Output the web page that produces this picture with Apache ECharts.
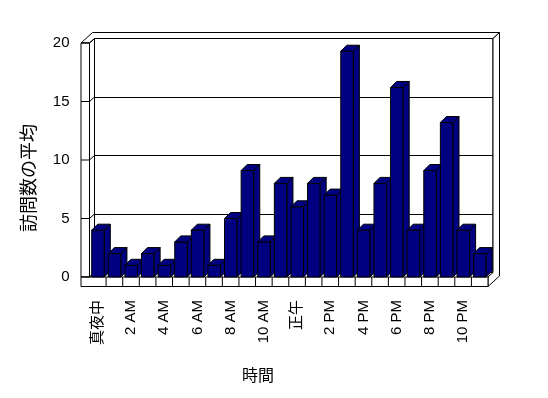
<!DOCTYPE html>
<html>
<head>
<meta charset="utf-8">
<script src="https://cdn.jsdelivr.net/npm/echarts@6/dist/echarts.min.js"></script>
<style>
  html, body { margin: 0; padding: 0; background: #fff; }
  #main { width: 548px; height: 398px; }
</style>
</head>
<body>
<div id="main"></div>
<script>
// 時間ごとの訪問数の平均
const hours = ['真夜中', '1 AM', '2 AM', '3 AM', '4 AM', '5 AM', '6 AM', '7 AM', '8 AM', '9 AM', '10 AM', '11 AM',
  '正午', '1 PM', '2 PM', '3 PM', '4 PM', '5 PM', '6 PM', '7 PM', '8 PM', '9 PM', '10 PM', '11 PM'];
const visits = [4, 2, 1, 2, 1, 3, 4, 1, 5, 9.1, 3, 8, 6, 8, 7, 19.3, 4, 8, 16.2, 4, 9.1, 13.2, 4, 2];
const yTicks = [0, 5, 10, 15, 20];

// 前面(棒の正面)と奥の壁
const FL = 89.5, FR = 488, FT = 43, FB = 277;
const DX = 5, DY = -4.5;      // 前面 -> 奥の壁
const WX = 6.5, WY = -6;      // 壁の厚み
const LW = 81;                // 左の壁の外側
const FLOOR = 286.5;          // 床の下端
const DEPTH = 6;              // 棒の奥行き

const font = "'Liberation Sans', 'Noto Sans CJK JP', sans-serif";

var myChart = echarts.init(document.getElementById('main'));

function renderBar(params, api) {
  const i = api.value(0);
  const v = api.value(1);
  const base = api.coord([i, 0]);
  const top = api.coord([i, v]);
  const band = api.size([1, 0])[0];
  const x = base[0] - band / 2 + 2.2;
  const w = band * 0.76;
  const y0 = top[1], y1 = base[1];
  const style = { fill: '#000080', stroke: '#000', lineWidth: 1 };
  return {
    type: 'group',
    children: [
      { type: 'polygon', shape: { points: [[x, y0], [x + w, y0], [x + w, y1], [x, y1]] }, style: style },
      { type: 'polygon', shape: { points: [[x + w, y0], [x + w + DEPTH, y0 - DEPTH], [x + w + DEPTH, y1 - DEPTH], [x + w, y1]] }, style: style },
      { type: 'polygon', shape: { points: [[x, y0], [x + DEPTH, y0 - DEPTH], [x + w + DEPTH, y0 - DEPTH], [x + w, y0]] }, style: style }
    ]
  };
}

myChart.setOption({
  backgroundColor: '#fff',
  animation: false,
  grid: [
    { left: FL, top: FT, width: FR - FL, height: FB - FT },
    { left: FL + DX, top: FT + DY, width: FR - FL, height: FB - FT,
      show: true, backgroundColor: '#fff', borderColor: '#000', borderWidth: 1 }
  ],
  xAxis: [
    {
      type: 'category', gridIndex: 0, data: hours,
      axisLine: { show: false }, axisTick: { show: false },
      axisLabel: { interval: 1, rotate: 90, margin: 23, color: '#000', fontSize: 15, fontFamily: font }
    },
    { type: 'category', gridIndex: 1, data: hours, show: false }
  ],
  yAxis: [
    {
      type: 'value', gridIndex: 0, min: 0, max: 20, interval: 5,
      axisLine: { show: false },
      axisTick: { show: true, length: FL - LW, lineStyle: { color: '#000' } },
      splitLine: { show: false },
      axisLabel: { margin: 20, color: '#000', fontSize: 15, fontFamily: font }
    },
    {
      type: 'value', gridIndex: 1, min: 0, max: 20, interval: 5,
      axisLine: { show: false }, axisTick: { show: false }, axisLabel: { show: false },
      splitLine: { show: true, lineStyle: { color: '#000', width: 1 } }
    }
  ],
  series: [
    {
      type: 'custom',
      xAxisIndex: 0, yAxisIndex: 0,
      z: 5,
      renderItem: renderBar,
      encode: { x: 0, y: 1 },
      data: visits.map((v, i) => [i, v])
    }
  ]
});

// 壁と床
const line = { stroke: '#000', lineWidth: 1, fill: '#fff' };
const BL = FL + DX, BR = FR + DX, BT = FT + DY, BB = FB + DY;
const graphics = [];
// 左の壁の内側
graphics.push({ type: 'polygon', z: 1, shape: { points: [[FL, FT], [BL, BT], [BL, BB], [FL, FB]] }, style: line });
// 上の面
graphics.push({ type: 'polygon', z: 1, shape: { points: [[LW, FT], [FL, FT], [BL, BT], [BR, BT], [BR + WX, BT + WY], [LW + DX + WX, BT + WY]] }, style: line });
// 右の面
graphics.push({ type: 'polygon', z: 1, shape: { points: [[FR, FB], [BR, BB], [BR, BT], [BR + WX, BT + WY], [BR + WX, FLOOR + DY + WY], [FR, FLOOR]] }, style: line });
// 左の壁の正面
graphics.push({ type: 'rect', z: 1, shape: { x: LW, y: FT, width: FL - LW, height: FB - FT }, style: line });
// 床の正面
graphics.push({ type: 'rect', z: 1, shape: { x: LW, y: FB, width: FR - LW, height: FLOOR - FB }, style: line });
// 床の区切り
hours.forEach(function (h, i) {
  if (i === 0) return;
  const x = myChart.convertToPixel({ xAxisIndex: 0 }, i) - (FR - FL) / hours.length / 2;
  graphics.push({ type: 'line', z: 1, shape: { x1: x, y1: FB, x2: x, y2: FLOOR }, style: { stroke: '#000', lineWidth: 1 } });
});
// 目盛線の斜め部分
yTicks.forEach(function (t) {
  const yf = myChart.convertToPixel({ yAxisIndex: 0 }, t);
  const yb = myChart.convertToPixel({ yAxisIndex: 1 }, t);
  graphics.push({ type: 'line', z: 1, shape: { x1: FL, y1: yf, x2: BL, y2: yb }, style: { stroke: '#000', lineWidth: 1 } });
  graphics.push({ type: 'line', z: 1, shape: { x1: LW, y1: yf, x2: FL, y2: yf }, style: { stroke: '#000', lineWidth: 1 } });
});
// 軸のタイトル
graphics.push({
  type: 'text', z: 1, x: 28, y: 178, rotation: Math.PI / 2,
  style: { text: '訪問数の平均', fontSize: 18, fontFamily: "'Noto Sans CJK JP', sans-serif", fill: '#000', align: 'center', verticalAlign: 'middle' }
});
graphics.push({
  type: 'text', z: 1, x: 258, y: 375,
  style: { text: '時間', fontSize: 16, fontFamily: "'Noto Sans CJK JP', sans-serif", fill: '#000', align: 'center', verticalAlign: 'middle' }
});

myChart.setOption({ graphic: graphics });
</script>
</body>
</html>
